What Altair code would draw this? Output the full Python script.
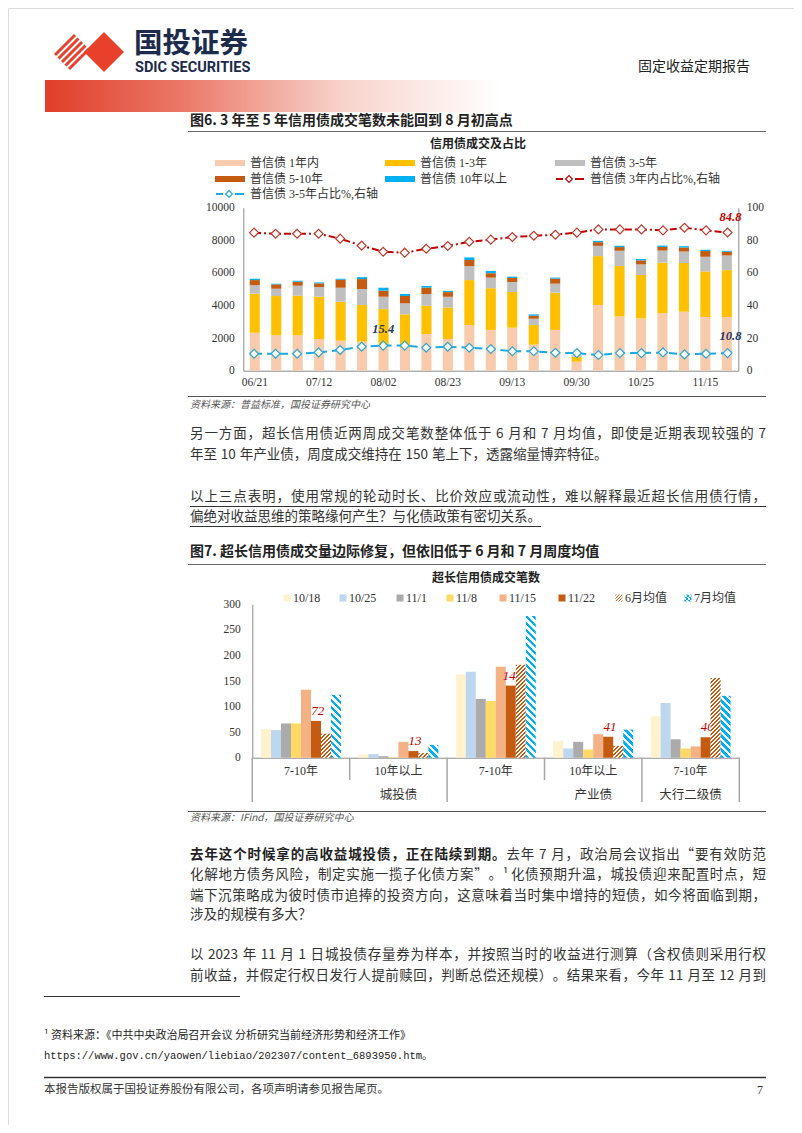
import altair as alt
import pandas as pd

W, H = 786, 1117


def X(v):
    return round(v - 8, 2)


def Y(v):
    return round(v - 8, 2)


CJK = "Noto Sans CJK SC"
SERIF = "Liberation Serif"
MIX = "Liberation Serif, Noto Sans CJK SC"
TXT = "#333333"

# ---------------- chart 1 data (图6) ----------------
weeks = ["06/21", "06/28", "07/05", "07/12", "07/19", "07/26", "08/02", "08/09", "08/16",
         "08/23", "08/30", "09/06", "09/13", "09/20", "09/27", "09/30", "10/12", "10/18",
         "10/25", "11/01", "11/08", "11/15", "11/22"]
tick_weeks = weeks[::3]
series1 = ["普信债 1年内", "普信债 1-3年", "普信债 3-5年", "普信债 5-10年", "普信债 10年以上"]
colors1 = ["#F8CBAD", "#FFC000", "#BFBFBF", "#C55A11", "#00B0F0"]
v_1y = [2330, 2170, 2170, 1940, 1840, 1780, 1470, 1410, 2250, 1940, 2800, 2500, 2640, 1600,
        2500, 550, 4030, 3330, 3210, 3520, 3620, 3290, 3290]
v_1_3 = [2390, 2410, 2430, 2600, 2390, 2250, 2310, 2050, 1740, 1940, 2760, 2560, 2190, 1200,
         2290, 310, 3000, 3090, 2660, 3110, 2990, 2800, 2880]
v_3_5 = [530, 450, 615, 590, 860, 980, 760, 675, 715, 655, 860, 650, 610, 390, 550, 50, 630,
         940, 650, 740, 700, 900, 900]
v_5_10 = [310, 265, 245, 225, 490, 610, 370, 450, 390, 285, 370, 270, 250, 185, 310, 20, 225,
          225, 250, 225, 245, 350, 225]
v_10p = [80, 40, 60, 60, 60, 120, 180, 120, 100, 80, 160, 140, 80, 80, 60, 10, 80, 80, 80, 80,
         80, 80, 60]
share_3y = [84.7, 84.0, 84.0, 84.0, 81.0, 76.7, 73.0, 72.4, 74.8, 76.5, 79.1, 80.4, 82.0, 82.8,
            83.4, 84.7, 86.7, 86.7, 86.7, 86.1, 87.7, 86.1, 84.8]
share_3_5 = [10.4, 10.4, 10.4, 11.2, 12.7, 14.7, 15.4, 15.4, 14.1, 14.7, 14.1, 13.3, 11.9, 11.9,
             11.0, 10.8, 9.6, 10.8, 10.8, 11.2, 10.0, 10.4, 10.8]
line_names = ["普信债 3年内占比%,右轴", "普信债 3-5年占比%,右轴"]

# ---------------- chart 2 data (图7) ----------------
cats2 = ["城投债|7-10年", "城投债|10年以上", "产业债|7-10年", "产业债|10年以上", "大行二级债|7-10年"]
parents2 = ["城投债", "产业债", "大行二级债"]
series2 = ["10/18", "10/25", "11/1", "11/8", "11/15", "11/22", "6月均值", "7月均值"]
colors2 = ["#FFF2CC", "#BDD7EE", "#ABABAB", "#FFD966", "#F4B183", "#C55A11", "#C55A11", "#00B0F0"]
vals2 = {
    "10/18": [56, 6, 163, 33, 81],
    "10/25": [54, 7, 168, 18, 107],
    "11/1": [67, 3, 115, 31, 36],
    "11/8": [67, 1, 111, 16, 18],
    "11/15": [133, 31, 178, 46, 22],
    "11/22": [72, 13, 141, 41, 40],
    "6月均值": [47, 9, 182, 23, 156],
    "7月均值": [123, 25, 277, 55, 121],
}

# ---------------- tables ----------------
seg_vals = [v_1y, v_1_3, v_3_5, v_5_10, v_10p]
df1 = pd.DataFrame([
    {"week": w, "series": s, "idx": si, "value": seg_vals[si][i]}
    for i, w in enumerate(weeks) for si, s in enumerate(series1)
])
dfl = pd.DataFrame({"week": weeks, "s3": share_3y, "s35": share_3_5})
df2 = pd.DataFrame([
    {"cat": c, "series": s, "v": vals2[s][ci]}
    for s in series2 for ci, c in enumerate(cats2)
])

layers = []


def one():
    return pd.DataFrame({"a": [0]})


def T(s, x, y, size=13.5, font=CJK, color=TXT, weight="normal", style="normal",
      align="left", baseline="middle"):
    return alt.Chart(pd.DataFrame({"t": [s]})).mark_text(
        align=align, baseline=baseline, font=font, fontSize=size, fontWeight=weight,
        fontStyle=style, color=color
    ).encode(x=alt.value(X(x)), y=alt.value(Y(y)), text="t:N")


def R(x1, y1, x2, y2, color="#555555", width=1.0, dash=None):
    kw = dict(color=color, strokeWidth=width)
    if dash:
        kw["strokeDash"] = dash
    return alt.Chart(one()).mark_rule(**kw).encode(
        x=alt.value(X(x1)), x2=alt.value(X(x2)), y=alt.value(Y(y1)), y2=alt.value(Y(y2)))


def RECT(x1, y1, x2, y2, fill):
    return alt.Chart(one()).mark_rect(fill=fill).encode(
        x=alt.value(X(x1)), x2=alt.value(X(x2)), y=alt.value(Y(y1)), y2=alt.value(Y(y2)))


def hatch(w, h, color, direction, period, duty=0.5):
    h = max(h, 1.0)
    S = w + h
    k = S / (w * w + h * h)
    if direction == "/":
        x1, y1, x2, y2 = 0, 0, k * w, k * h
    else:
        x1, y1, x2, y2 = 0, 1, k * w, 1 - k * h
    n = int(S / period) + 1
    stops = []
    for j in range(n):
        a = min(j * period / S, 1)
        b = min((j + duty) * period / S, 1)
        c = min((j + 1) * period / S, 1)
        stops += [{"offset": a, "color": color}, {"offset": b, "color": color},
                  {"offset": b, "color": "#FFFFFF"}, {"offset": c, "color": "#FFFFFF"}]
    return {"gradient": "linear", "x1": x1, "y1": y1, "x2": x2, "y2": y2, "stops": stops}


# ================= header =================
layers.append(RECT(45, 80, 500, 112, {
    "gradient": "linear", "x1": 0, "y1": 0, "x2": 1, "y2": 0,
    "stops": [{"offset": 0, "color": "#E03E29"}, {"offset": 0.3, "color": "#EA7867"},
              {"offset": 0.65, "color": "#F7D2CA"}, {"offset": 1, "color": "#FFFFFF"}]}))
# logo: striped diamond + solid diamond
R_ = 20
cx, cy = 72, 52
for d in [-14, -7, 0, 7, 14]:
    ax_, ay_ = (R_ + d) / 2, (R_ - d) / 2
    bx_, by_ = (-R_ + d) / 2, (-R_ - d) / 2
    layers.append(R(cx + ax_, cy - ay_, cx + bx_, cy - by_, color="#E8412B", width=3))
layers.append(alt.Chart(one()).mark_point(shape="diamond", filled=True, color="#E8412B",
                                          size=1600, opacity=1)
              .encode(x=alt.value(X(104)), y=alt.value(Y(52))))
layers.append(T("国投证券", 134, 44, size=28.5, weight="bold", color="#1C2B4B"))
layers.append(T("SDIC SECURITIES", 135, 68, size=14.5, weight="bold", color="#1C2B4B",
                font="Liberation Sans Narrow, Roboto"))
layers.append(T("固定收益定期报告", 638, 67, size=14, color="#222222"))

# ================= figure 6 =================
layers.append(T("图6. 3 年至 5 年信用债成交笔数未能回到 8 月初高点", 190, 121, size=14,
                weight="bold", color="#222222"))
layers.append(R(188, 131.5, 766, 131.5, color="#666666", width=1.2))
layers.append(T("信用债成交及占比", 478, 144, size=12, weight="bold", align="center",
                color="#222222"))

# legend 1
cols_x = [(215, 250), (385, 420), (555, 590)]
rows_y = [163, 179, 194]
slots = [(0, 0), (0, 1), (0, 2), (1, 0), (1, 1)]
for (r, c), name, col in zip(slots, series1, colors1):
    sx, tx = cols_x[c]
    layers.append(RECT(sx, rows_y[r] - 3, sx + 30, rows_y[r] + 3, col))
    layers.append(T(name, tx, rows_y[r], size=12, font=MIX))
for (r, c), name, col in zip([(1, 2), (2, 0)], line_names, ["#C00000", "#1CA8E0"]):
    sx, tx = cols_x[c]
    yy = rows_y[r]
    layers.append(R(sx + 1, yy, sx + 8, yy, color=col, width=2))
    layers.append(R(sx + 20, yy, sx + 29, yy, color=col, width=2))
    layers.append(alt.Chart(one()).mark_point(shape="diamond", filled=True, fill="white",
                                              stroke=col, strokeWidth=1.2, size=45, opacity=1)
                  .encode(x=alt.value(X(sx + 14)), y=alt.value(Y(yy))))
    layers.append(T(name, tx, yy, size=12, font=MIX))

xs1 = alt.Scale(domain=weeks, range=[X(243.3), X(738.3)], paddingInner=0.53, paddingOuter=0.3)
ys1 = alt.Scale(domain=[0, 10000], range=[Y(370.7), Y(207.7)], nice=False)
ys1r = alt.Scale(domain=[0, 100], range=[Y(370.7), Y(207.7)], nice=False)

ax1x = alt.Axis(orient="bottom", offset=Y(370.7) - H, values=tick_weeks, labelAngle=0,
                labelFont=SERIF, labelFontSize=11.5, labelColor=TXT, labelPadding=6,
                ticks=False, domainColor="#8C8C8C", grid=False, title=None)
ay1 = alt.Axis(orient="left", offset=-X(243.3), values=list(range(0, 10001, 2000)), format="d",
               labelFont=SERIF, labelFontSize=11.5, labelColor=TXT, labelPadding=9,
               ticks=False, domainColor="#8C8C8C", grid=False, title=None)
ay1r = alt.Axis(orient="right", offset=X(738.3) - W, values=list(range(0, 101, 20)), format="d",
                labelFont=SERIF, labelFontSize=11.5, labelColor=TXT, labelPadding=8,
                ticks=False, domainColor="#8C8C8C", grid=False, title=None)

layers.append(alt.Chart(df1).mark_bar().encode(
    x=alt.X("week:N", scale=xs1, axis=ax1x),
    y=alt.Y("value:Q", scale=ys1, axis=ay1, stack="zero"),
    color=alt.Color("series:N", scale=alt.Scale(domain=series1, range=colors1), legend=None),
    order=alt.Order("idx:Q", sort="ascending"),
))
layers.append(alt.Chart(dfl).mark_line(color="#C00000", strokeWidth=2,
                                       strokeDash=[7, 3, 2, 3]).encode(
    x=alt.X("week:N", scale=xs1, axis=None),
    y=alt.Y("s3:Q", scale=ys1r, axis=ay1r)))
layers.append(alt.Chart(dfl).mark_point(shape="diamond", filled=True, fill="white",
                                        stroke="#C0392B", strokeWidth=1.2, size=80,
                                        opacity=1).encode(
    x=alt.X("week:N", scale=xs1, axis=None),
    y=alt.Y("s3:Q", scale=ys1r, axis=None)))
layers.append(alt.Chart(dfl).mark_line(color="#1CA8E0", strokeWidth=2,
                                       strokeDash=[8, 5]).encode(
    x=alt.X("week:N", scale=xs1, axis=None),
    y=alt.Y("s35:Q", scale=ys1r, axis=None)))
layers.append(alt.Chart(dfl).mark_point(shape="diamond", filled=True, fill="white",
                                        stroke="#2AA7D6", strokeWidth=1.2, size=80,
                                        opacity=1).encode(
    x=alt.X("week:N", scale=xs1, axis=None),
    y=alt.Y("s35:Q", scale=ys1r, axis=None)))


def lab1(i, key, color, dy, dx=0):
    d = pd.DataFrame({"week": [weeks[i]], "v": [dfl[key][i]]})
    return alt.Chart(d).mark_text(dy=dy, dx=dx, font=SERIF, fontSize=12.5, fontWeight="bold",
                                  fontStyle="italic", color=color).encode(
        x=alt.X("week:N", scale=xs1, axis=None),
        y=alt.Y("v:Q", scale=ys1r, axis=None),
        text=alt.Text("v:Q", format=".1f"))


layers.append(lab1(22, "s3", "#C00000", -15, 3))
layers.append(lab1(22, "s35", "#1F3864", -17, 3))
layers.append(lab1(6, "s35", "#1F3864", -17, 0))

layers.append(R(188, 396.5, 766, 396.5, color="#555555", width=1.2))
layers.append(T("资料来源：普益标准，国投证券研究中心", 190, 405, size=10, style="italic",
                color="#555555"))

# ================= figure 7 =================
layers.append(T("图7. 超长信用债成交量边际修复，但依旧低于 6 月和 7 月周度均值", 190, 552, size=14,
                weight="bold", color="#222222"))
layers.append(R(188, 564.5, 766, 564.5, color="#666666", width=1.2))
layers.append(T("超长信用债成交笔数", 486, 578, size=12, weight="bold", align="center",
                color="#222222"))

leg2 = [287, 343, 400, 450, 503, 562, 619, 688]
for mx, s, col in zip(leg2, series2, colors2):
    if s == "6月均值":
        fill = hatch(7, 7, col, "/", 3)
    elif s == "7月均值":
        fill = hatch(7, 7, col, "\\", 4)
    else:
        fill = col
    layers.append(RECT(mx - 3.5, 598 - 3.5, mx + 3.5, 598 + 3.5, fill))
    layers.append(T(s, mx + 6, 598, size=12, font=MIX))

xs2 = alt.Scale(domain=cats2, range=[X(252.3), X(739.3)], paddingInner=0, paddingOuter=0)
xo2 = alt.Scale(domain=series2, paddingInner=0, paddingOuter=0.87)
ys2 = alt.Scale(domain=[0, 300], range=[Y(757.7), Y(604.3)], nice=False)
px_per_unit = (757.7 - 604.3) / 300
bar_w = (739.3 - 252.3) / 5 / (8 + 2 * 0.87)

ax2x = alt.Axis(orient="bottom", offset=Y(757.7) - H, labelExpr="split(datum.label,'|')[1]",
                labelAngle=0, labelFont=MIX, labelFontSize=12, labelColor=TXT, labelPadding=8,
                ticks=False, domainColor="#8C8C8C", grid=False, title=None)
ay2 = alt.Axis(orient="left", offset=-X(252.3), values=list(range(0, 301, 50)), format="d",
               labelFont=SERIF, labelFontSize=11.5, labelColor=TXT, labelPadding=12,
               ticks=False, domainColor="#8C8C8C", grid=False, title=None)

solid = series2[:6]
layers.append(alt.Chart(df2[df2["series"].isin(solid)]).mark_bar().encode(
    x=alt.X("cat:N", scale=xs2, axis=ax2x),
    xOffset=alt.XOffset("series:N", scale=xo2),
    y=alt.Y("v:Q", scale=ys2, axis=ay2),
    color=alt.Color("series:N", scale=alt.Scale(domain=solid, range=colors2[:6]), legend=None),
))

# value labels for 11/22 (drawn under the hatched bars)
layers.append(alt.Chart(df2[df2["series"] == "11/22"]).mark_text(
    baseline="bottom", dy=-3, font=SERIF, fontSize=13, fontStyle="italic",
    color="#C00000").encode(
    x=alt.X("cat:N", scale=xs2, axis=None),
    xOffset=alt.XOffset("series:N", scale=xo2),
    y=alt.Y("v:Q", scale=ys2, axis=None),
    text="v:Q"))

for s, col, dirn, per in [("6月均值", "#C55A11", "/", 4.0), ("7月均值", "#00B0F0", "\\", 7.0)]:
    for ci, c in enumerate(cats2):
        v = vals2[s][ci]
        g = hatch(bar_w, v * px_per_unit, col, dirn, per)
        layers.append(alt.Chart(df2[(df2["series"] == s) & (df2["cat"] == c)]).mark_bar(
            fill=g).encode(
            x=alt.X("cat:N", scale=xs2, axis=None),
            xOffset=alt.XOffset("series:N", scale=xo2),
            y=alt.Y("v:Q", scale=ys2, axis=None)))

# category separators
sep = pd.DataFrame({"cat": cats2, "kind": ["start", "short", "long", "short", "long"]})
layers.append(alt.Chart(sep[sep["kind"] == "short"]).mark_rule(color="#A6A6A6", strokeWidth=1.5)
              .encode(x=alt.X("cat:N", scale=xs2, axis=None, bandPosition=0),
                      y=alt.value(Y(757.7)), y2=alt.value(Y(780))))
layers.append(alt.Chart(sep[sep["kind"] != "short"]).mark_rule(color="#A6A6A6", strokeWidth=1.5)
              .encode(x=alt.X("cat:N", scale=xs2, axis=None, bandPosition=0),
                      y=alt.value(Y(757.7)), y2=alt.value(Y(802))))
layers.append(alt.Chart(sep.tail(1)).mark_rule(color="#A6A6A6", strokeWidth=1.5)
              .encode(x=alt.X("cat:N", scale=xs2, axis=None, bandPosition=1),
                      y=alt.value(Y(757.7)), y2=alt.value(Y(802))))
par = pd.DataFrame({"cat": ["城投债|10年以上", "产业债|10年以上"], "p": parents2[:2]})
layers.append(alt.Chart(par).mark_text(font=CJK, fontSize=12.5, color=TXT, baseline="middle")
              .encode(x=alt.X("cat:N", scale=xs2, axis=None, bandPosition=0),
                      y=alt.value(Y(795)), text="p:N"))
par2 = pd.DataFrame({"cat": [cats2[4]], "p": [parents2[2]]})
layers.append(alt.Chart(par2).mark_text(font=CJK, fontSize=12.5, color=TXT, baseline="middle")
              .encode(x=alt.X("cat:N", scale=xs2, axis=None, bandPosition=0.5),
                      y=alt.value(Y(795)), text="p:N"))

layers.append(R(188, 811.5, 766, 811.5, color="#555555", width=1.2))
layers.append(T("资料来源：IFind，国投证券研究中心", 190, 818, size=10, style="italic",
                color="#555555"))

# ================= body text =================
FS = 13.5


def is_narrow(ch):
    return ord(ch) < 0x2000 and ch != " "


def tokenize(s, size):
    toks = []
    i = 0
    while i < len(s):
        ch = s[i]
        if ch == " ":
            toks.append(("", 0.28 * size, False))
            i += 1
        elif is_narrow(ch):
            j = i
            while j < len(s) and is_narrow(s[j]):
                j += 1
            run = s[i:j]
            toks.append((run, 0.56 * size * len(run), True))
            i = j
        else:
            toks.append((ch, size, True))
            i += 1
    return toks


body_lines = [
    ([("另一方面，超长信用债近两周成交笔数整体低于 6 月和 7 月均值，即使是近期表现较强的 7", False)], 434, 766),
    ([("年至 10 年产业债，周度成交维持在 150 笔上下，透露缩量博弈特征。", False)], 455, None),
    ([("以上三点表明，使用常规的轮动时长、比价效应或流动性，难以解释最近超长信用债行情，", False)], 497, 766),
    ([("偏绝对收益思维的策略缘何产生？与化债政策有密切关系。", False)], 517, None),
    ([("去年这个时候拿的高收益城投债，正在陆续到期。", True),
      ("去年 7 月，政治局会议指出“要有效防范", False)], 855, 766),
    ([("化解地方债务风险，制定实施一揽子化债方案”。¹化债预期升温，城投债迎来配置时点，短", False)], 875, 766),
    ([("端下沉策略成为彼时债市追捧的投资方向，这意味着当时集中增持的短债，如今将面临到期，", False)], 896, 766),
    ([("涉及的规模有多大？", False)], 915, None),
    ([("以 2023 年 11 月 1 日城投债存量券为样本，并按照当时的收益进行测算（含权债则采用行权", False)], 955, 766),
    ([("前收益，并假定行权日发行人提前赎回，判断总偿还规模）。结果来看，今年 11 月至 12 月到", False)], 976, 766),
]

rows = []
line_end = {}
for parts, yy, x1 in body_lines:
    toks = []
    for text, bold in parts:
        for t, w, vis in tokenize(text, FS):
            toks.append((t, w, vis, bold))
    natural = sum(t[1] for t in toks)
    nvis = sum(1 for t in toks if t[2])
    extra = (x1 - 190 - natural) / max(nvis - 1, 1) if x1 else 0
    x = 190
    for t, w, vis, bold in toks:
        if vis:
            rows.append({"t": t, "px": X(x), "py": Y(yy), "b": bold})
            x += w + extra
        else:
            x += w
    line_end[yy] = x - extra
body = pd.DataFrame(rows)
for bold in [False, True]:
    layers.append(alt.Chart(body[body["b"] == bold]).mark_text(
        align="left", baseline="middle", font=CJK, fontSize=FS,
        fontWeight="bold" if bold else "normal", color="#222222" if bold else TXT).encode(
        x=alt.X("px:Q", scale=None), y=alt.Y("py:Q", scale=None), text="t:N"))

layers.append(R(190, 506.5, 766, 506.5, color="#333333", width=1))
layers.append(R(190, 526.5, line_end[517], 526.5, color="#333333", width=1))

# footnote & footer
layers.append(R(44, 996.5, 240, 996.5, color="#333333", width=1))
layers.append(T("¹ 资料来源：《中共中央政治局召开会议 分析研究当前经济形势和经济工作》", 44, 1036,
                size=11, color="#222222"))
layers.append(T("https://www.gov.cn/yaowen/liebiao/202307/content_6893950.htm。", 44, 1056,
                size=10.5, font="Liberation Mono, Noto Sans CJK SC", color="#222222"))
layers.append(R(44, 1077.5, 766, 1077.5, color="#333333", width=1.5))
layers.append(T("本报告版权属于国投证券股份有限公司，各项声明请参见报告尾页。", 44, 1090, size=11.5,
                color="#333333"))
layers.append(T("7", 757, 1090, size=12, font=SERIF, color="#333333"))

chart = alt.layer(*layers).resolve_scale(
    x="independent", y="independent", color="independent", xOffset="independent"
).properties(
    width=W, height=H, autosize=alt.AutoSizeParams(type="none"), padding=0
).configure_view(stroke=None).configure(background="white")

chart.save("out.html", embed_options={"renderer": "svg", "actions": False})
